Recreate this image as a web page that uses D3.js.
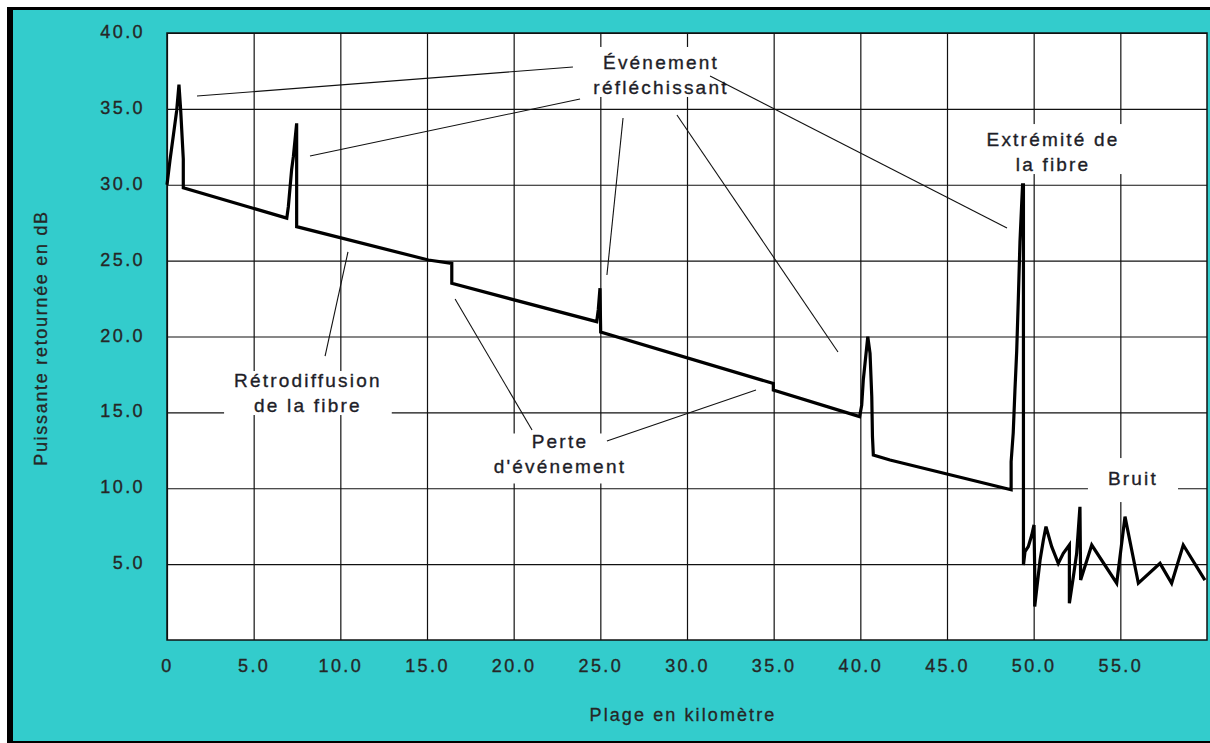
<!DOCTYPE html>
<html><head><meta charset="utf-8">
<script src="https://cdn.jsdelivr.net/npm/d3@7"></script>
<style>html,body{margin:0;padding:0;background:#fff;} svg{display:block;}</style>
</head><body><svg id="chart" width="1210" height="743"></svg>
<script>
// ---- data ----
const distanceKm = [0, 0.17, 0.36, 0.56, 0.69, 0.79, 0.94, 0.94, 6.91, 7.0, 7.19, 7.29, 7.48, 7.48,
  15.08, 16.43, 16.43, 24.79, 24.88, 24.98, 25.02, 34.98, 34.98, 39.96, 40.08, 40.17, 40.33, 40.43,
  40.56, 40.66, 40.7, 40.75, 41.71, 48.7, 48.7, 48.82, 48.92, 49.02, 49.11, 49.21, 49.31, 49.36, 49.41,
  49.41, 49.5, 49.69, 49.89, 50.02, 50.06, 50.06, 50.19, 50.37, 50.56, 50.71, 51.04, 51.42, 51.71,
  52.06, 52.06, 52.29, 52.48, 52.67, 52.71, 53.35, 54.79, 55.27, 56.04, 57.29, 57.96, 58.63, 59.88];
const powerDb = [30.0, 31.6, 33.2, 34.9, 36.6, 34.9, 31.7, 29.8, 27.8, 28.55, 31.0, 31.85, 34.05, 27.24,
  25.04, 24.82, 23.5, 20.98, 21.75, 23.18, 20.3, 16.9, 16.47, 14.72, 15.49, 17.13, 18.89, 19.99,
  18.89, 16.03, 13.4, 12.19, 11.86, 9.9, 11.75, 13.64, 16.47, 19.0, 22.29, 26.25, 28.78, 30.0, 30.0,
  4.94, 5.82, 6.15, 6.92, 7.58, 4.61, 2.2, 3.51, 5.27, 6.59, 7.47, 6.15, 5.05, 5.71,
  6.26, 2.42, 4.17, 5.71, 8.78, 3.95, 6.26, 3.74, 8.13, 3.74, 5.05, 3.74, 6.26, 3.95];

const xTickValues = [0, 5, 10, 15, 20, 25, 30, 35, 40, 45, 50, 55];
const xTickLabels = ["0", "5.0", "10.0", "15.0", "20.0", "25.0", "30.0", "35.0", "40.0", "45.0", "50.0", "55.0"];
const yTickValues = [5, 10, 15, 20, 25, 30, 35, 40];
const yTickLabels = ["5.0", "10.0", "15.0", "20.0", "25.0", "30.0", "35.0", "40.0"];
const xTitle = "Plage en kilomètre";
const yTitle = "Puissante retournée en dB";

// annotation labels (text lines), anchored in data units (centre km, first baseline dB)
const noteLines = [["Événement", "réfléchissant"], ["Extrémité de", "la fibre"], ["Rétrodiffusion", "de la fibre"], ["Perte", "d'événement"], ["Bruit"]];
const noteKm = [28.5, 51.12, 8.13, 22.67, 55.73];
const noteDb = [37.63, 32.55, 16.67, 12.62, 10.21];
// leader lines in data units
const leaderFromKm = [1.73, 8.25, 26.31, 29.42, 31.33, 10.44, 16.62, 25.38];
const leaderFromDb = [35.85, 31.89, 34.4, 34.6, 37.17, 25.57, 22.47, 13.11];
const leaderToKm = [23.42, 23.83, 25.38, 38.71, 48.46, 9.12, 21.06, 33.98];
const leaderToDb = [37.76, 35.65, 24.05, 18.98, 27.15, 18.71, 13.84, 16.47];

// ---- layout ----
const W = 1210, H = 743;
const P = {left: 167, right: 1207, top: 33, bottom: 640};
const cyan = "#33CCCC", ink = "#1e1e28";
// mask paddings per label [padX, padTop, padBottom]
const maskPad = [[8, 5, -1], [5, 5, -1], [10, -1, -1], [6, -2, 6], [20, 10, 13]];

const svg = d3.select("#chart");
svg.append("rect").attr("x", 0).attr("y", 0).attr("width", W).attr("height", H).attr("fill", "#fff");
svg.append("rect").attr("x", 7).attr("y", 7).attr("width", W - 7).attr("height", H - 7).attr("fill", "#000");
svg.append("rect").attr("x", 13).attr("y", 10).attr("width", W - 13).attr("height", H - 12).attr("fill", cyan);

const x = d3.scaleLinear().domain([0, 60]).range([P.left, P.right]);
const y = d3.scaleLinear().domain([0, 40]).range([P.bottom, P.top]);

svg.append("rect").attr("x", P.left).attr("y", P.top).attr("width", P.right - P.left).attr("height", P.bottom - P.top).attr("fill", "#fff");

const font = "'Liberation Sans', Arial, sans-serif";
const tickInk = "#262626";

// y axis with gridlines
const gy = svg.append("g").attr("transform", `translate(${P.left},0)`)
  .call(d3.axisLeft(y).tickValues(yTickValues).tickFormat((d, i) => yTickLabels[i])
    .tickSize(-(P.right - P.left)).tickPadding(22));
gy.select(".domain").remove();
gy.selectAll("line").attr("stroke", "#111").attr("stroke-width", 1.2);
gy.selectAll("text").attr("font-family", font).attr("font-size", 18).attr("letter-spacing", "2.4px")
  .attr("fill", tickInk).attr("stroke", tickInk).attr("stroke-width", 0.35).attr("dy", "0.25em");

// x axis with gridlines
const gx = svg.append("g").attr("transform", `translate(0,${P.bottom})`)
  .call(d3.axisBottom(x).tickValues(xTickValues).tickFormat((d, i) => xTickLabels[i])
    .tickSize(-(P.bottom - P.top)).tickPadding(19));
gx.select(".domain").remove();
gx.selectAll("line").attr("stroke", "#111").attr("stroke-width", 1.2);
gx.selectAll("text").attr("font-family", font).attr("font-size", 18).attr("letter-spacing", "2.4px")
  .attr("fill", tickInk).attr("stroke", tickInk).attr("stroke-width", 0.35);

// plot border
svg.append("rect").attr("x", P.left).attr("y", P.top).attr("width", P.right - P.left).attr("height", P.bottom - P.top)
  .attr("fill", "none").attr("stroke", "#111").attr("stroke-width", 1.5);

// axis titles
svg.append("text").attr("x", (P.left + P.right) / 2 - 4).attr("y", 721).attr("text-anchor", "middle")
  .attr("font-family", font).attr("font-size", 18).attr("letter-spacing", "2.1px")
  .attr("fill", tickInk).attr("stroke", tickInk).attr("stroke-width", 0.3).text(xTitle);
svg.append("text").attr("transform", "translate(47,338) rotate(-90)").attr("text-anchor", "middle")
  .attr("font-family", font).attr("font-size", 18).attr("letter-spacing", "1.7px")
  .attr("fill", tickInk).attr("stroke", tickInk).attr("stroke-width", 0.3).text(yTitle);

// annotation labels with white masks
const noteG = svg.append("g");
noteLines.forEach((lines, k) => {
  const g = noteG.append("g");
  const r = g.append("rect").attr("fill", "#fff");
  const t = g.append("text").attr("font-family", font).attr("font-size", 19).attr("letter-spacing", "2.2px")
    .attr("fill", ink).attr("stroke", ink).attr("stroke-width", 0.35).attr("text-anchor", "middle");
  lines.forEach((s, j) => {
    t.append("tspan").attr("x", x(noteKm[k])).attr("y", y(noteDb[k]) + j * 25).text(s);
  });
  const b = t.node().getBBox();
  const p = maskPad[k];
  r.attr("x", b.x - p[0]).attr("y", b.y - p[1]).attr("width", b.width + 2 * p[0]).attr("height", b.height + p[1] + p[2]);
});

// trace
const line = d3.line().x(i => x(distanceKm[i])).y(i => y(powerDb[i]));
svg.append("path").attr("d", line(d3.range(distanceKm.length)))
  .attr("fill", "none").attr("stroke", "#000").attr("stroke-width", 3.2).attr("stroke-linejoin", "miter");

// leader lines
svg.append("g").selectAll("line").data(d3.range(leaderFromKm.length)).join("line")
  .attr("x1", i => x(leaderFromKm[i])).attr("y1", i => y(leaderFromDb[i]))
  .attr("x2", i => x(leaderToKm[i])).attr("y2", i => y(leaderToDb[i]))
  .attr("stroke", "#111").attr("stroke-width", 1.1);
</script></body></html>
